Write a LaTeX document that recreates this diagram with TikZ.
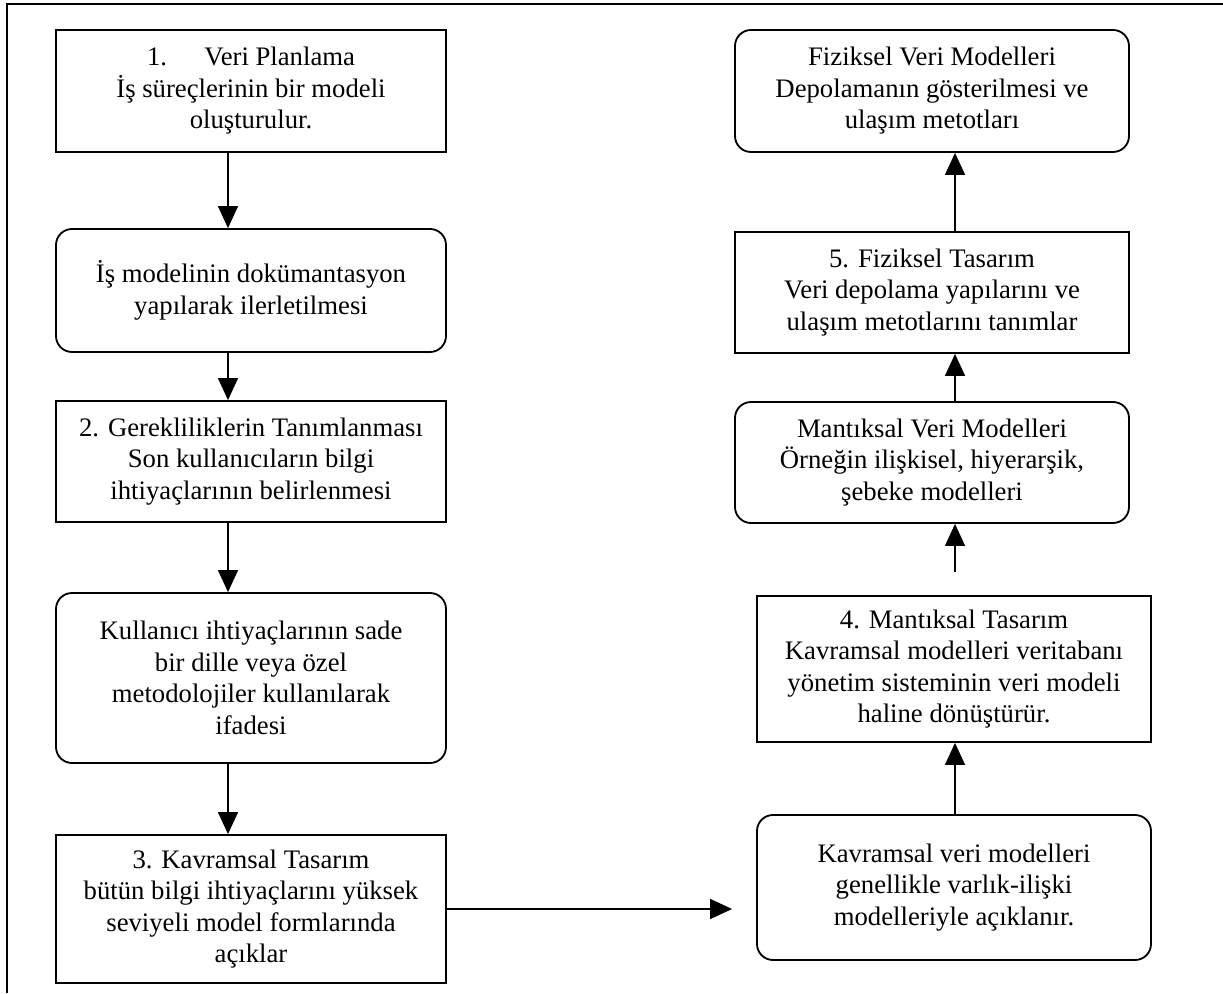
\documentclass[tikz,border=0pt]{standalone}
\usepackage{fontspec}
\setmainfont{Liberation Serif}
\usetikzlibrary{arrows.meta}

\begin{document}
\begin{tikzpicture}[>={Triangle[length=0.55cm,width=0.5cm]}]
	\tikzstyle{every node}=[font=\fontsize{19}{22.4}\selectfont]
	\tikzstyle{kare}=[draw, line width=1.3pt, align=center, inner sep=0pt, minimum width=9.75cm]
	\tikzstyle{oval}=[kare, rounded corners=0.4cm]
	\tikzstyle{ok}=[->, line width=1pt]

	\useasboundingbox (0,0) rectangle (30.575,24.825);
	\draw [line width=1pt] (0.175,0) -- (0.175,24.725) -- (30.575,24.725); % frame

	% left column
	\node [kare, minimum height=3.05cm] (planlama) at (6.275,22.55)
		{1.\hspace{1.4em}Veri Planlama \\ İş süreçlerinin bir modeli \\ oluşturulur.};
	\node [oval, minimum height=3.075cm] (dokuman) at (6.275,17.5625)
		{İş modelinin dokümantasyon \\ yapılarak ilerletilmesi};
	\node [kare, minimum height=3.025cm] (gereklilik) at (6.275,13.2875)
		{2. Gerekliliklerin Tanımlanması \\ Son kullanıcıların bilgi \\ ihtiyaçlarının belirlenmesi};
	\node [oval, minimum height=4.25cm] (ifade) at (6.275,7.875)
		{Kullanıcı ihtiyaçlarının sade \\ bir dille veya özel \\ metodolojiler kullanılarak \\ ifadesi};
	\node [kare, minimum height=3.7cm] (kavramsal) at (6.275,2.1)
		{3. Kavramsal Tasarım \\ bütün bilgi ihtiyaçlarını yüksek \\ seviyeli model formlarında \\ açıklar};

	% right column
	\node [oval, minimum width=9.85cm, minimum height=3.05cm] (fizmodel) at (23.3,22.55)
		{Fiziksel Veri Modelleri \\ Depolamanın gösterilmesi ve \\ ulaşım metotları};
	\node [kare, minimum width=9.85cm, minimum height=3.025cm] (fiziksel) at (23.3,17.5125)
		{5. Fiziksel Tasarım \\ Veri depolama yapılarını ve \\ ulaşım metotlarını tanımlar};
	\node [oval, minimum width=9.85cm, minimum height=3.025cm] (manmodel) at (23.3,13.2625)
		{Mantıksal Veri Modelleri \\ Örneğin ilişkisel, hiyerarşik, \\ şebeke modelleri};
	\node [kare, minimum width=9.85cm, minimum height=3.65cm] (mantiksal) at (23.85,8.1)
		{4. Mantıksal Tasarım \\ Kavramsal modelleri veritabanı \\ yönetim sisteminin veri modeli \\ haline dönüştürür.};
	\node [oval, minimum width=9.85cm, minimum height=3.625cm] (kavmodel) at (23.85,2.6375)
		{Kavramsal veri modelleri \\ genellikle varlık-ilişki \\ modelleriyle açıklanır.};

	\coordinate (sol) at (5.7,0);
	\coordinate (sag) at (23.875,0);

	\draw [ok] (planlama.south -| sol) -- (dokuman.north -| sol);
	\draw [ok] (dokuman.south -| sol) -- (gereklilik.north -| sol);
	\draw [ok] (gereklilik.south -| sol) -- (ifade.north -| sol);
	\draw [ok] (ifade.south -| sol) -- (kavramsal.north -| sol);
	\draw [ok, shorten >=0.6cm] (kavramsal.east) -- (kavramsal.east -| kavmodel.west);
	\draw [ok] (kavmodel.north -| sag) -- (mantiksal.south -| sag);
	\draw [ok, shorten <=0.575cm] (mantiksal.north -| sag) -- (manmodel.south -| sag);
	\draw [ok] (manmodel.north -| sag) -- (fiziksel.south -| sag);
	\draw [ok] (fiziksel.north -| sag) -- (fizmodel.south -| sag);
\end{tikzpicture}
\end{document}
